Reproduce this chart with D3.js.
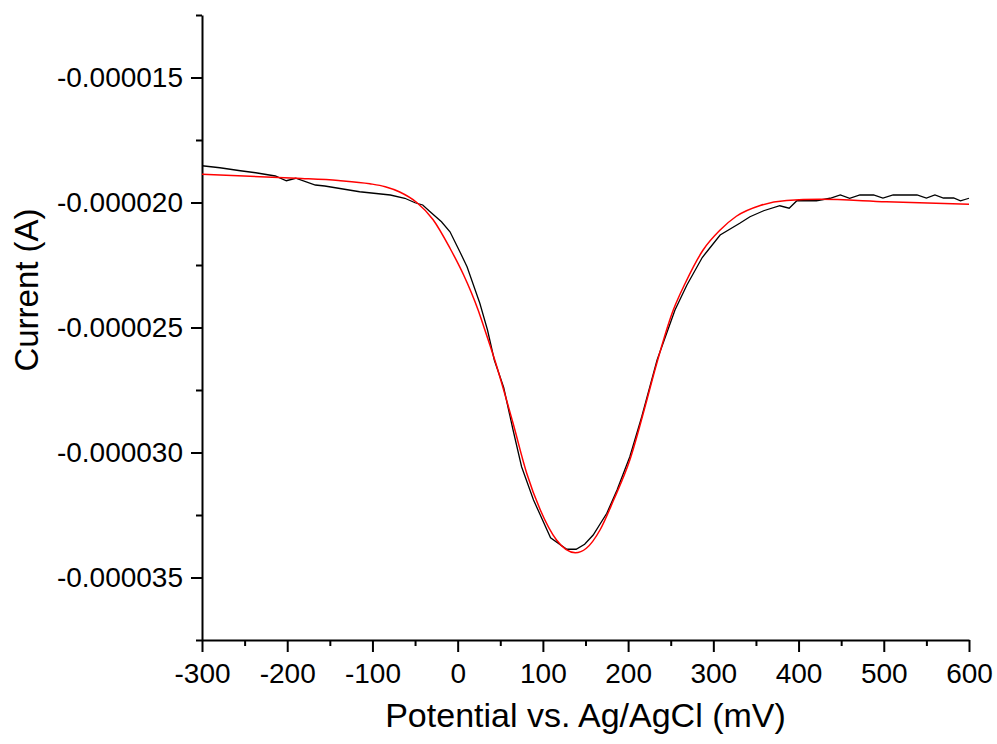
<!DOCTYPE html>
<html>
<head>
<meta charset="utf-8">
<script src="https://cdn.jsdelivr.net/npm/d3@7"></script>
<style>
  body { margin: 0; background: #fff; }
  svg { display: block; }
  text { font-family: "Liberation Sans", Arial, Helvetica, sans-serif; }
</style>
</head>
<body>
<script>
// measured scan (mV vs A)
var potential = [-300, -279, -255, -237, -214, -201, -190, -167, -156, -115, -79, -62, -50, -41, -33,
                 -19, -9, 3, 11, 26, 35, 43, 54, 65, 75, 89, 109, 128, 139, 149, 159, 175, 187,
                 202, 216, 234, 255, 269, 287, 294, 308, 331, 343, 359, 378, 389, 398, 421, 437,
                 449, 460, 472, 488, 499, 511, 539, 550, 560, 570, 582, 590, 600];
var current = [-18.53e-6, -18.61e-6, -18.73e-6, -18.81e-6, -18.94e-6, -19.13e-6, -19.03e-6, -19.30e-6,
               -19.34e-6, -19.57e-6, -19.70e-6, -19.83e-6, -20.01e-6, -20.10e-6, -20.35e-6, -20.77e-6,
               -21.17e-6, -22.00e-6, -22.57e-6, -24.03e-6, -25.10e-6, -26.30e-6, -27.40e-6, -29.10e-6,
               -30.57e-6, -31.90e-6, -33.41e-6, -33.87e-6, -33.87e-6, -33.67e-6, -33.30e-6, -32.43e-6,
               -31.50e-6, -30.17e-6, -28.57e-6, -26.30e-6, -24.30e-6, -23.30e-6, -22.20e-6, -21.90e-6,
               -21.30e-6, -20.83e-6, -20.57e-6, -20.33e-6, -20.13e-6, -20.23e-6, -19.93e-6, -19.93e-6,
               -19.83e-6, -19.70e-6, -19.83e-6, -19.70e-6, -19.70e-6, -19.82e-6, -19.70e-6, -19.70e-6,
               -19.82e-6, -19.70e-6, -19.82e-6, -19.82e-6, -19.93e-6, -19.83e-6];

// fitted peak
var fitPotential = [-300, -189, -140, -103, -85, -68, -48, -29, -9, 7, 16, 24, 30, 44, 65, 81, 97, 116, 138,
                    151, 167, 183, 202, 222, 232, 253, 267, 288, 308, 327, 355, 386, 425, 503, 600];
var fitCurrent = [-18.87e-6, -19.03e-6, -19.12e-6, -19.25e-6, -19.37e-6, -19.58e-6, -20.00e-6, -20.68e-6,
                  -21.83e-6, -22.90e-6, -23.60e-6, -24.30e-6, -24.90e-6, -26.35e-6, -28.83e-6, -30.83e-6,
                  -32.30e-6, -33.50e-6, -34.01e-6, -33.83e-6, -33.10e-6, -31.90e-6, -30.30e-6, -27.90e-6,
                  -26.63e-6, -24.30e-6, -23.23e-6, -21.90e-6, -21.10e-6, -20.55e-6, -20.12e-6, -19.92e-6,
                  -19.87e-6, -19.97e-6, -20.07e-6];

var xTicks = [-300, -200, -100, 0, 100, 200, 300, 400, 500, 600];
var xMinor = [-250, -150, -50, 50, 150, 250, 350, 450, 550];
var yTicks = [-0.000035, -0.000030, -0.000025, -0.000020, -0.000015];
var yMinor = [-0.0000375, -0.0000325, -0.0000275, -0.0000225, -0.0000175, -0.0000125];

function init() {
    var w = 997;
    var h = 744;

    var svg = d3.select("body")
                .append("svg")
                .attr("width", w)
                .attr("height", h);

    var xScale = d3.scaleLinear()
                   .domain([-300, 600])
                   .range([202, 969]);

    var yScale = d3.scaleLinear()
                   .domain([-0.0000375, -0.0000125])
                   .range([640, 15]);

    // minor ticks first, no labels
    svg.append("g")
       .attr("class", "minor")
       .attr("transform", "translate(0,640)")
       .call(d3.axisBottom(xScale).tickValues(xMinor).tickSize(6).tickFormat(""));
    svg.append("g")
       .attr("class", "minor")
       .attr("transform", "translate(202,0)")
       .call(d3.axisLeft(yScale).tickValues(yMinor).tickSize(6).tickFormat(""));
    svg.selectAll(".minor .domain").remove();

    // major axes
    svg.append("g")
       .attr("transform", "translate(0,640)")
       .call(d3.axisBottom(xScale)
               .tickValues(xTicks)
               .tickSize(12)
               .tickSizeOuter(0)
               .tickPadding(11)
               .tickFormat(function(d) { return String(d); }));

    svg.append("g")
       .attr("transform", "translate(202,0)")
       .call(d3.axisLeft(yScale)
               .tickValues(yTicks)
               .tickSize(11)
               .tickSizeOuter(0)
               .tickPadding(8)
               .tickFormat(function(d) { return d.toFixed(6); }));

    svg.selectAll(".domain, .tick line")
       .attr("stroke", "#000")
       .attr("stroke-width", 2);

    svg.selectAll(".tick text")
       .attr("fill", "#000")
       .style("font-size", "28px")
       .style("font-family", "'Liberation Sans', Arial, sans-serif");

    // series
    var blackLine = d3.line()
                      .x(function(d, i) { return xScale(potential[i]); })
                      .y(function(d, i) { return yScale(current[i]); });

    var fitLine = d3.line()
                    .curve(d3.curveMonotoneX)
                    .x(function(d, i) { return xScale(fitPotential[i]); })
                    .y(function(d, i) { return yScale(fitCurrent[i]); });

    svg.append("path")
       .datum(current)
       .attr("d", blackLine)
       .attr("fill", "none")
       .attr("stroke", "#000")
       .attr("stroke-width", 1.3);

    svg.append("path")
       .datum(fitCurrent)
       .attr("d", fitLine)
       .attr("fill", "none")
       .attr("stroke", "#ff0000")
       .attr("stroke-width", 1.5);

    // titles
    svg.append("text")
       .attr("x", 585.5)
       .attr("y", 727)
       .attr("text-anchor", "middle")
       .style("font-size", "34px")
       .text("Potential vs. Ag/AgCl (mV)");

    svg.append("text")
       .attr("transform", "translate(38,290) rotate(-90)")
       .attr("text-anchor", "middle")
       .style("font-size", "33px")
       .text("Current (A)");
}

window.onload = init;
</script>
</body>
</html>
